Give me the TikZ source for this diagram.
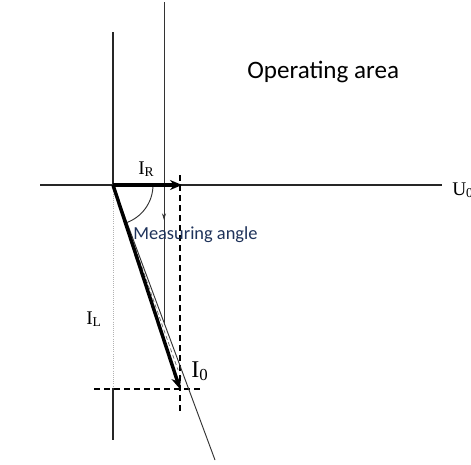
\documentclass[tikz,border=0pt]{standalone}
\usepackage{fontspec}
\setmainfont{Liberation Serif}
\newfontfamily\calib{Carlito}
\usetikzlibrary{arrows.meta}
\definecolor{navytext}{RGB}{30,50,90}
\tikzset{
  axisline/.style={line width=0.9pt, draw=black!85},
  thinline/.style={line width=0.7pt, draw=black!80},
  dashline/.style={line width=0.8pt, draw=black, dash pattern=on 4.5pt off 3pt},
  vecarrow/.style={line width=2.6pt, draw=black, -{Stealth[length=9pt,width=7.5pt]}},
  lbl/.style={inner sep=0pt, font=\fontsize{14.5}{16}\selectfont},
}
\begin{document}
\begin{tikzpicture}[x=0.75pt,y=-0.75pt]
\useasboundingbox[fill=white] (0,0) rectangle (471,464);
% key points
\coordinate (O) at (113,185);
\coordinate (IRtip) at (182,185);
\coordinate (I0tip) at (180,389);
\coordinate (axL) at (40,185);
\coordinate (axR) at (442,185);
\coordinate (v1top) at (113,32);
\coordinate (v1mid) at (113,388);
\coordinate (v1bot) at (113,440);
\coordinate (v2top) at (164,2);
\coordinate (v2bot) at (164,325);
\coordinate (dvtop) at (180,175);
\coordinate (dvbot) at (180,413);
\coordinate (dhL) at (94,389);
\coordinate (dhR) at (203,389);
\coordinate (extEnd) at (215,460);
\coordinate (dsEnd) at (178,370);
% axes and guide lines
\draw[axisline] (axL) -- (axR);
\draw[axisline] (v1top) -- (O);
\draw[black!30, line width=0.6pt, densely dotted] (O) -- (v1mid);
\draw[axisline] (v1mid) -- (v1bot);
\draw[thinline] (v2top) -- (v2bot);
\draw[thinline, -{Stealth[length=5pt,width=3pt]}] (164,208) -- (164,220);
\draw[dashline] (dvtop) -- (dvbot);
\draw[dashline] (dhL) -- (dhR);
% extension line and dashed companion
\draw[thinline] (O) -- (extEnd);
\draw[black!60, line width=0.5pt, dash pattern=on 3pt off 2pt] (O) -- (dsEnd);
% measuring angle arc
\draw[thinline] (153,185) arc[start angle=0, end angle=72, radius=40];
% vectors
\draw[vecarrow] (O) -- (IRtip);
\draw[vecarrow] (O) -- (I0tip);
% labels
\node[lbl, anchor=base west] (lIR) at (138,174) {I\textsubscript{R}};
\node[lbl, anchor=base west] (lIL) at (86,324) {I\textsubscript{L}};
\node[inner sep=0pt, anchor=base west, font=\fontsize{18}{20}\selectfont] (lI0) at (191,377) {I\textsubscript{0}};
\node[lbl, anchor=base west] (lU0) at (452,195) {U\textsubscript{0}};
\node[inner sep=0pt, anchor=base west, font=\calib\fontsize{13.8}{16}\selectfont, text=navytext] (lMA) at (133,239) {Measuring angle};
\node[inner sep=0pt, anchor=base west, font=\calib\fontsize{18.8}{22}\selectfont] (lOA) at (247,78) {Operating area};
\end{tikzpicture}
\end{document}
